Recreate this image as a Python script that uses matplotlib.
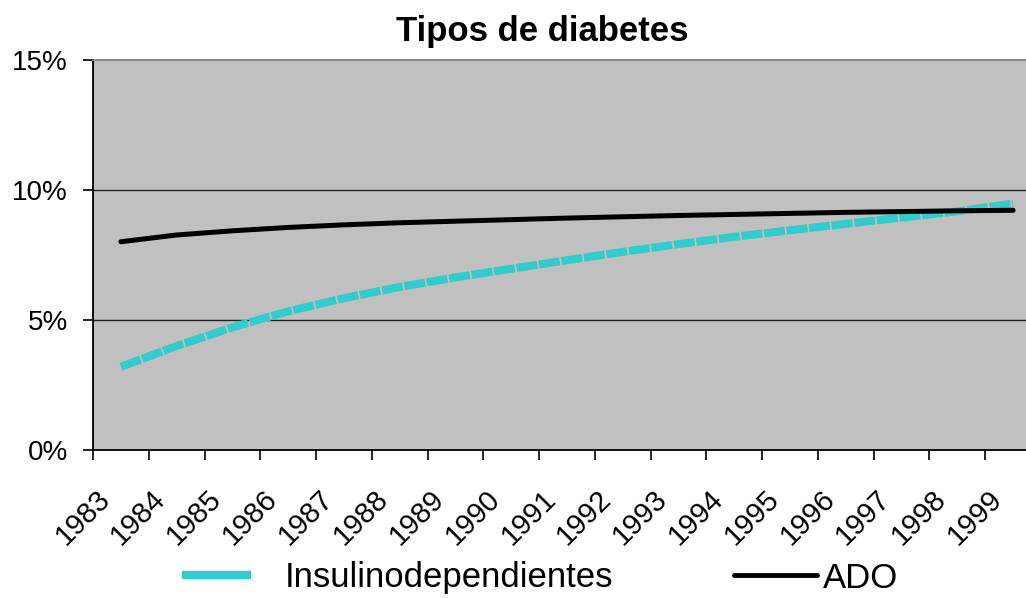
import numpy as np
import matplotlib
matplotlib.use("Agg")
import matplotlib.pyplot as plt
from matplotlib.lines import Line2D

plt.rcParams['font.family'] = ['Liberation Sans', 'DejaVu Sans']

# ---- data ----
years = [str(y) for y in range(1983, 2000)]
insulino = [3.2, 4.0, 4.72, 5.33, 5.84, 6.27, 6.64, 6.97, 7.3, 7.62, 7.92,
            8.2, 8.45, 8.7, 8.94, 9.18, 9.48]
ado = [8.01, 8.27, 8.43, 8.56, 8.66, 8.74, 8.8, 8.86, 8.92, 8.97, 9.02,
       9.06, 9.1, 9.14, 9.17, 9.2, 9.22]
yticks = [0, 5, 10, 15]

W, H = 1026, 598
fig = plt.figure(figsize=(W / 100, H / 100), dpi=100)
# plot area runs past the right edge of the picture, as in the reference
ax = fig.add_axes([93 / W, 148 / H, 948 / W, 390 / H])
ax.set_facecolor('#C0C0C0')

x = np.arange(len(years)) + 0.5
ax.plot(x, insulino, color='#33CCCC', lw=5.8, dashes=(2.6, 0.22),
        dash_capstyle='butt', label='Insulinodependientes', zorder=3)
ax.plot(x, ado, color='black', lw=3.6, solid_capstyle='round',
        label='ADO', zorder=4)

ax.set_xlim(0, len(years))
ax.set_ylim(0, 15)
ax.set_yticks(yticks)
ax.set_yticklabels([f"{v}%" for v in yticks])
for v in yticks[1:-1]:
    ax.axhline(v, color='#202020', lw=1.0, zorder=1)

# tick marks on the category boundaries, labels a bit to the right of them
ax.set_xticks(np.arange(len(years)))
ax.set_xticklabels([])
ax.set_xticks(np.arange(len(years)) + 0.4, minor=True)
ax.set_xticklabels(years, minor=True, rotation=45, ha='right', va='top')

ax.tick_params(axis='x', which='major', direction='out', length=7, width=1.2)
ax.tick_params(axis='x', which='minor', length=0, pad=25,
               labelsize=21, colors='black')
ax.tick_params(axis='y', direction='out', length=7, width=1.2, pad=11,
               labelsize=20, colors='black')

for s in ['left', 'bottom']:
    ax.spines[s].set_color('black')
    ax.spines[s].set_linewidth(1.3)
ax.spines['top'].set_color('#808080')
ax.spines['top'].set_linewidth(1.3)
ax.spines['right'].set_visible(False)

fig.text(542 / W, 1 - 31 / H, 'Tipos de diabetes', ha='center', va='center',
         fontsize=25, fontweight='bold')

# legend entries, laid out like the reference
h1 = Line2D([], [], color='#33CCCC', lw=6)
h2 = Line2D([], [], color='black', lw=3.5, solid_capstyle='round')
leg1 = fig.legend([h1], ['Insulinodependientes'], loc='center left',
                  bbox_to_anchor=(186 / W, 1 - 578 / H), frameon=False,
                  fontsize=25, handlelength=1.75, handletextpad=1.1,
                  borderpad=0, borderaxespad=0)
leg2 = fig.legend([h2], ['ADO'], loc='center left',
                  bbox_to_anchor=(734 / W, 1 - 578 / H), frameon=False,
                  fontsize=25, handlelength=2.4, handletextpad=0.15,
                  borderpad=0, borderaxespad=0)

fig.savefig('out.png', dpi=100)
